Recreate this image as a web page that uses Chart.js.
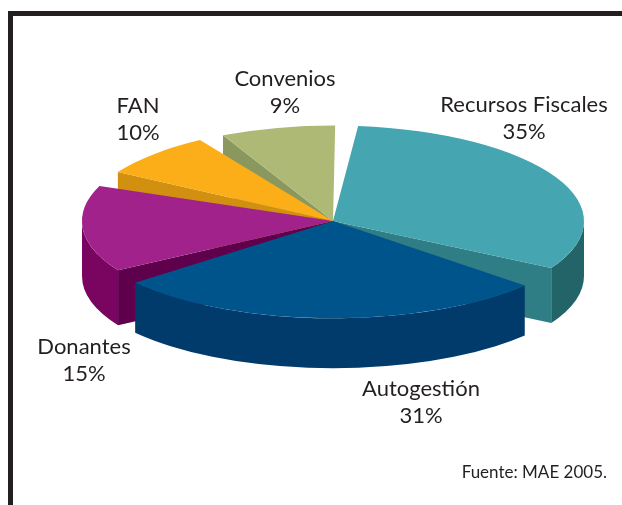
<!DOCTYPE html>
<html>
<head>
<meta charset="utf-8">
<title>Fuentes de financiamiento</title>
<script src="https://cdn.jsdelivr.net/npm/chart.js@4"></script>
<style>
    html, body { margin: 0; padding: 0; background: #fff; overflow: hidden; }
    #wrap { position: relative; width: 622px; height: 505px; }
    #frame {
        position: absolute; left: 8px; top: 11px; right: 0; bottom: 0;
        border-left: 5.5px solid #231f20; border-top: 5.5px solid #231f20;
    }
    canvas { position: absolute; left: 0; top: 0; }
</style>
</head>
<body>
<div id="wrap">
    <div id="frame"></div>
    <canvas id="pieChart" width="622" height="505"></canvas>
</div>
<script>
// --- DATA ---
const categories = ["Recursos Fiscales", "Autogestión", "Donantes", "FAN", "Convenios"];
const shares = [35, 31, 15, 10, 9];
const sourceNote = "Fuente: MAE 2005.";

// --- COLORS ---
const topColors = ["#45a5b0", "#00548c", "#a1228a", "#fbae17", "#adb974"];
const rimColors = ["#226468", "#003b6b", "#7a0560", "#c98a10", "#8a985f"];
const cutColors = ["#2f7d85", "#003b6b", "#5e004c", "#d1900f", "#8a985f"];

// --- 3D LOOK ---
const TILT = 0.38;          // vertical squash of the pie
const APEX_Y = 221;         // where the pie centre lands on screen
const depths = [55, 50, 55, 55, 55];
const radiusScale = [1, 1.02, 1, 1, 1];
// the wedges are pulled apart a bit, in degrees off each end
const trimStart = [5.75, 5.5, 1.3, 9.4, 6.4];
const trimEnd = [6.4, 7, 0.1, -0.4, -0.5];
// back to front
const paintOrder = [4, 3, 2, 0, 1];

// --- LABELS ---
const labelPos = [
    { x: 524, y: 105 },
    { x: 421, y: 389 },
    { x: 84, y: 347 },
    { x: 138, y: 106 },
    { x: 285, y: 79 }
];
const LABEL_FONT = "22px Lato, 'Open Sans', sans-serif";
const LABEL_GAP = 27;

const rad = d => d * Math.PI / 180;

function drawRim(ctx, el, depth, color, ay) {
    // only the part of the rim facing the viewer
    const a0 = Math.max(el.startAngle, 0);
    const a1 = Math.min(el.endAngle, Math.PI);
    if (a1 <= a0) return;
    const r = el.outerRadius;
    ctx.beginPath();
    ctx.ellipse(el.x, ay, r, r * TILT, 0, a0, a1);
    ctx.ellipse(el.x, ay + depth, r, r * TILT, 0, a1, a0, true);
    ctx.closePath();
    ctx.fillStyle = color;
    ctx.fill();
}

function drawCut(ctx, el, angle, depth, color, ay) {
    const px = el.x + Math.cos(angle) * el.outerRadius;
    const py = ay + Math.sin(angle) * el.outerRadius * TILT;
    ctx.beginPath();
    ctx.moveTo(el.x, ay);
    ctx.lineTo(px, py);
    ctx.lineTo(px, py + depth);
    ctx.lineTo(el.x, ay + depth);
    ctx.closePath();
    ctx.fillStyle = color;
    ctx.fill();
}

const pie3d = {
    id: "pie3d",
    afterDatasetsUpdate(chart) {
        // shrink each wedge and set its own radius
        chart.getDatasetMeta(0).data.forEach((el, i) => {
            el.startAngle += rad(trimStart[i]);
            el.endAngle -= rad(trimEnd[i]);
            el.circumference = el.endAngle - el.startAngle;
            el.outerRadius *= radiusScale[i];
        });
    },
    beforeDatasetsDraw(chart) {
        const ctx = chart.ctx;
        const arcs = chart.getDatasetMeta(0).data;

        paintOrder.forEach(i => {
            const el = arcs[i];
            // a cut face only shows when it turns towards the viewer
            if (Math.cos(el.startAngle) < 0) drawCut(ctx, el, el.startAngle, depths[i], cutColors[i], APEX_Y);
            if (Math.sin(el.endAngle) > 0 && Math.cos(el.endAngle) > 0) drawCut(ctx, el, el.endAngle, depths[i], cutColors[i], APEX_Y);
            drawRim(ctx, el, depths[i], rimColors[i], APEX_Y);
        });

        // top faces come from the library, squashed
        const cy = arcs[0].y;
        ctx.save();
        ctx.translate(0, APEX_Y);
        ctx.scale(1, TILT);
        ctx.translate(0, -cy);
    },
    afterDatasetsDraw(chart) {
        const ctx = chart.ctx;
        ctx.restore();

        ctx.fillStyle = "#231f20";
        ctx.font = LABEL_FONT;
        ctx.textAlign = "center";
        ctx.textBaseline = "middle";
        categories.forEach((name, i) => {
            ctx.fillText(name, labelPos[i].x, labelPos[i].y);
            ctx.fillText(shares[i] + "%", labelPos[i].x, labelPos[i].y + LABEL_GAP);
        });

        ctx.font = "17px Lato, 'Open Sans', sans-serif";
        ctx.textAlign = "right";
        ctx.fillText(sourceNote, 607, 473);
    }
};

new Chart(document.getElementById("pieChart").getContext("2d"), {
    type: "pie",
    data: {
        labels: categories,
        datasets: [{
            data: shares,
            backgroundColor: topColors,
            borderWidth: 0
        }]
    },
    options: {
        responsive: false,
        animation: false,
        layout: { padding: { left: 82, right: 38, top: 0, bottom: 0 } },
        plugins: { legend: { display: false }, tooltip: { enabled: false } }
    },
    plugins: [pie3d]
});
</script>
</body>
</html>
